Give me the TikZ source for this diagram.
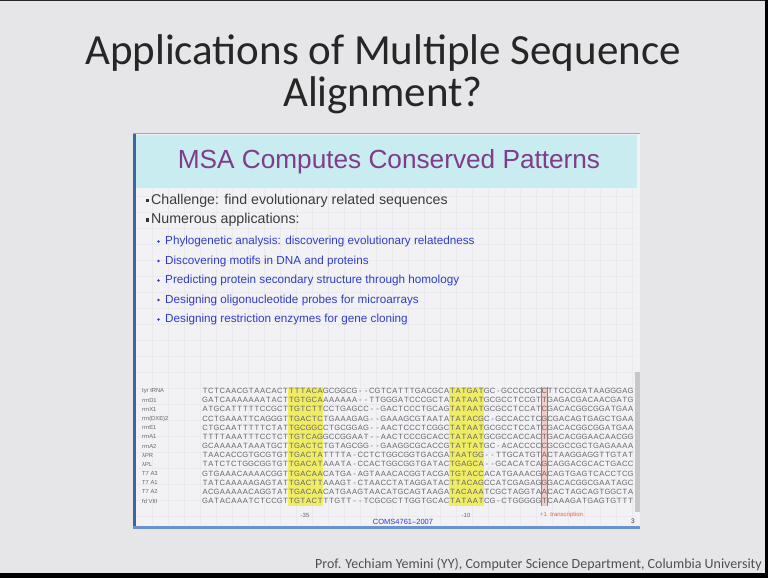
\documentclass[tikz,border=0pt]{standalone}
\usepackage{fontspec}
\setmainfont{Carlito}
\newfontfamily\arialfont{Liberation Sans}

\definecolor{slidebg}{RGB}{230,230,232}
\definecolor{panelbg}{RGB}{242,242,245}
\definecolor{gridcol}{RGB}{233,233,238}
\definecolor{headbg}{RGB}{200,236,240}
\definecolor{msapurple}{RGB}{128,60,140}
\definecolor{bodygray}{RGB}{60,60,64}
\definecolor{subblue}{RGB}{48,60,200}
\definecolor{frameblue}{RGB}{70,120,190}
\definecolor{hiyellow}{RGB}{240,236,100}
\definecolor{hipink}{RGB}{244,204,198}
\definecolor{hired}{RGB}{225,95,80}
\definecolor{seqgray}{RGB}{100,100,106}
\definecolor{footgray}{RGB}{80,80,84}

% fixed-pitch layout of alignment characters
\newlength\cw \setlength\cw{5.75pt}
\def\seqchars#1{\ifx#1\relax\else\makebox[\cw][c]{#1}\expandafter\seqchars\fi}
\newcommand\seqtext[1]{\seqchars#1\relax}

\tikzset{
  titletext/.style={font=\fontsize{43}{47}\selectfont, text=black!85, align=center, inner sep=0pt},
  headtext/.style={font=\arialfont\fontsize{26.2}{28}\selectfont, text=msapurple, inner sep=0pt},
  lvlone/.style={font=\arialfont\fontsize{14.2}{16}\selectfont, text=bodygray, anchor=west, inner sep=0pt},
  lvltwo/.style={font=\arialfont\fontsize{11.7}{13}\selectfont, text=subblue, anchor=west, inner sep=0pt},
  seqlabel/.style={font=\arialfont\fontsize{5.8}{6}\selectfont, text=seqgray, anchor=west, inner sep=0pt},
  seqline/.style={font=\arialfont\fontsize{7.6}{8}\selectfont, text=seqgray, anchor=west, inner sep=0pt},
  smallnote/.style={font=\arialfont\fontsize{6}{7}\selectfont, inner sep=0pt},
  gridline/.style={draw=gridcol, line width=0.5pt},
}

\newcommand\alnrow[9]{%
  \node[seqlabel] (lab#1) at (142,391+9.17*#1-9.17) {#2};
  \node[seqline] (seq#1) at (202,391+9.17*#1-9.17) {\seqtext{#3#4#5#6#7#8#9}};
}

\begin{document}
\begin{tikzpicture}[x=1pt,y=-1pt]
\useasboundingbox (0,0) rectangle (768,578);
\fill[slidebg] (0,0) rectangle (768,578);

% screen edges
\fill[black!85] (0,0) rectangle (768,1.5);
\fill[black] (765,0) rectangle (768,578);
\fill[black] (0,573) rectangle (768,578);

% slide title
\node[titletext] (title1) at (383,53) {Applications of Multiple Sequence};
\node[titletext] (title2) at (383,95) {Alignment?};

% embedded slide: panel, graph-paper grid, header band
\fill[panelbg] (134,134) rectangle (640,527);
\foreach \gx in {152,168,...,632} \draw[gridline] (\gx,189) -- (\gx,525);
\foreach \gy in {196,212,...,524} \draw[gridline] (135,\gy) -- (636,\gy);
\fill[headbg] (135,135) rectangle (637,188);
\draw[black!35, line width=0.8pt] (133,133.6) -- (640,133.6);
\fill[frameblue!85!black] (132.5,134) rectangle (135.5,528);
\fill[frameblue!80] (133,525.5) rectangle (640,528.5);
\fill[black!22] (635,372) rectangle (640,512);

\node[headtext] (head) at (389,162) {MSA Computes Conserved Patterns};

% first-level bullets
\fill[black!80] (145.5,198.5) rectangle (149,202);
\node[lvlone] (b1) at (151,200.5) {Challenge: find evolutionary related sequences};
\fill[black!80] (145.5,218) rectangle (149,221.5);
\node[lvlone] (b2) at (151,220) {Numerous applications:};

% second-level bullets
\foreach \yy/\nm/\txt in {
  241.5/s1/{Phylogenetic analysis: discovering evolutionary relatedness},
  261/s2/{Discovering motifs in DNA and proteins},
  280.5/s3/{Predicting protein secondary structure through homology},
  300/s4/{Designing oligonucleotide probes for microarrays},
  319.5/s5/{Designing restriction enzymes for gene cloning}}{
  \fill[subblue] (158.5,\yy) circle (1.3);
  \node[lvltwo] (\nm) at (165,\yy) {\txt};
}

% conserved boxes of the promoter alignment
\fill[hiyellow] (288.25,386.5) rectangle (322.75,506);
\fill[hiyellow] (449.25,386.5) rectangle (483.75,506);
\fill[hipink] (541.25,386.5) rectangle (547,506);
\draw[hired, line width=0.5pt] (541.25,386.5) -- (541.25,506);
\draw[hired, line width=0.5pt] (547,386.5) -- (547,506);

% alignment rows
\alnrow{1}{tyr tRNA}{TCTCAACGTAACACT}{TTTACA}{GCGGCG--CGTCATTTGACGCA}{TATGAT}{GC-GCCCCGC}{C}{TTCCCGATAAGGGAG}
\alnrow{2}{rrnD1}{GATCAAAAAAATACT}{TGTGCA}{AAAAAA--TTGGGATCCCGCTA}{TATAAT}{GCGCCTCCGT}{T}{GAGACGACAACGATG}
\alnrow{3}{rrnX1}{ATGCATTTTTCCGCT}{TGTCTT}{CCTGAGCC--GACTCCCTGCAG}{TATAAT}{GCGCCTCCAT}{C}{GACACGGCGGATGAA}
\alnrow{4}{rrn(DXE)2}{CCTGAAATTCAGGGT}{TGACTC}{TGAAAGAG--GAAAGCGTAATA}{TATACG}{C-GCCACCTC}{G}{CGACAGTGAGCTGAA}
\alnrow{5}{rrnE1}{CTGCAATTTTTCTAT}{TGCGGC}{CTGCGGAG--AACTCCCTCGGC}{TATAAT}{GCGCCTCCAT}{C}{GACACGGCGGATGAA}
\alnrow{6}{rrnA1}{TTTTAAATTTCCTCT}{TGTCAG}{GCCGGAAT--AACTCCCGCACC}{TATAAT}{GCGCCACCAC}{T}{GACACGGAACAACGG}
\alnrow{7}{rrnA2}{GCAAAAATAAATGCT}{TGACTC}{TGTAGCGG--GAAGGCGCACCG}{TATTAT}{GC-ACACCCC}{C}{GCGCCGCTGAGAAAA}
\alnrow{8}{λPR}{TAACACCGTGCGTGT}{TGACTA}{TTTTA-CCTCTGGCGGTGACGA}{TAATGG}{--TTGCATGT}{A}{CTAAGGAGGTTGTAT}
\alnrow{9}{λPL}{TATCTCTGGCGGTGT}{TGACAT}{AAATA-CCACTGGCGGTGATAC}{TGAGCA}{--GCACATCA}{G}{CAGGACGCACTGACC}
\alnrow{10}{T7 A3}{GTGAAACAAAACGGT}{TGACAA}{CATGA-AGTAAACACGGTACGA}{TGTACC}{ACATGAAACG}{A}{CAGTGAGTCACCTCG}
\alnrow{11}{T7 A1}{TATCAAAAAGAGTAT}{TGACTT}{AAAGT-CTAACCTATAGGATAC}{TTACAG}{CCATCGAGAG}{G}{GACACGGCGAATAGC}
\alnrow{12}{T7 A2}{ACGAAAAACAGGTAT}{TGACAA}{CATGAAGTAACATGCAGTAAGA}{TACAAA}{TCGCTAGGTA}{A}{CACTAGCAGTGGCTA}
\alnrow{13}{fd VIII}{GATACAAATCTCCGT}{TGTACT}{TTGTT--TCGCGCTTGGTGCAC}{TATAAT}{CG-CTGGGGG}{T}{CAAAGATGAGTGTTT}

% position marks under the alignment
\node[smallnote, text=seqgray] (m35) at (305,515) {-35};
\node[smallnote, text=seqgray] (m10) at (466,515) {-10};
\node[smallnote, text=hired, anchor=west] (p1) at (540,515) {+1 \ transcription};

% slide footer
\node[font=\arialfont\fontsize{7.5}{8}\selectfont, text=subblue, inner sep=0pt] (course) at (403,522) {COMS4761–2007};
\node[font=\arialfont\fontsize{6.5}{7}\selectfont, text=black!80, inner sep=0pt] (pagenum) at (633,521.5) {3};

% lecture footer
\node[font=\fontsize{14}{16}\selectfont, text=footgray, anchor=east, inner sep=0pt] (credit) at (762,565) {Prof. Yechiam Yemini (YY), Computer Science Department, Columbia University};
\end{tikzpicture}
\end{document}
